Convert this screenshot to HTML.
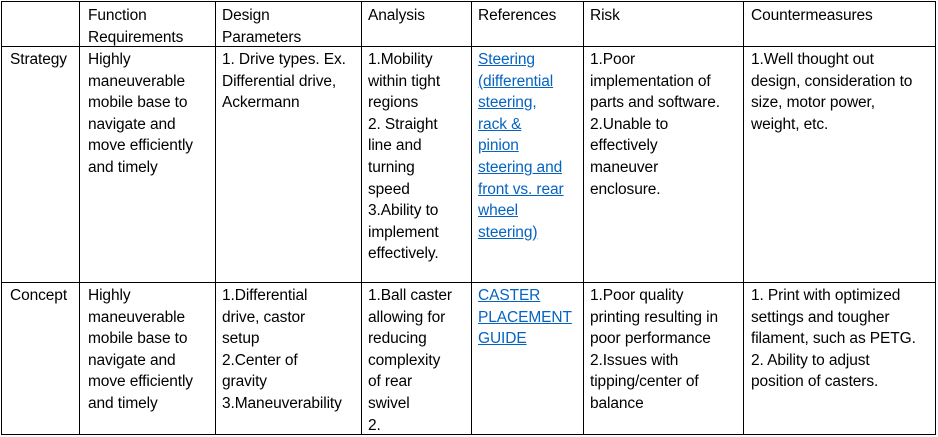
<!DOCTYPE html>
<html><head><meta charset="utf-8"><style>
body{margin:0;width:938px;height:437px;background:#fff;overflow:hidden;position:relative;font-family:"Liberation Sans",sans-serif;font-size:15.5px;color:#000}
.l{position:absolute;background:#000}
.c{position:absolute;line-height:21.6px;white-space:nowrap;letter-spacing:-0.1px}
a{color:#0563c1;text-decoration:underline}
</style></head><body>
<div class="l" style="left:1px;top:1px;width:935px;height:1px"></div>
<div class="l" style="left:1px;top:46px;width:935px;height:1px"></div>
<div class="l" style="left:1px;top:282px;width:935px;height:1px"></div>
<div class="l" style="left:1px;top:434px;width:935px;height:1px"></div>
<div class="l" style="left:1px;top:1px;width:1px;height:434px"></div>
<div class="l" style="left:79px;top:1px;width:1px;height:434px"></div>
<div class="l" style="left:215px;top:1px;width:1px;height:434px"></div>
<div class="l" style="left:361px;top:1px;width:1px;height:434px"></div>
<div class="l" style="left:471px;top:1px;width:1px;height:434px"></div>
<div class="l" style="left:583px;top:1px;width:1px;height:434px"></div>
<div class="l" style="left:743px;top:1px;width:1px;height:434px"></div>
<div class="l" style="left:935px;top:1px;width:1px;height:434px"></div>

<div class="c" style="left:88px;top:5px">Function<br>Requirements</div>
<div class="c" style="left:222px;top:5px">Design<br>Parameters</div>
<div class="c" style="left:368px;top:5px">Analysis</div>
<div class="c" style="left:478px;top:5px">References</div>
<div class="c" style="left:590px;top:5px">Risk</div>
<div class="c" style="left:751px;top:5px">Countermeasures</div>

<div class="c" style="left:10px;top:49px">Strategy</div>
<div class="c" style="left:88px;top:49px">Highly<br>maneuverable<br>mobile base to<br>navigate and<br>move efficiently<br>and timely</div>
<div class="c" style="left:222px;top:49px">1. Drive types. Ex.<br>Differential drive,<br>Ackermann</div>
<div class="c" style="left:368px;top:49px">1.Mobility<br>within tight<br>regions<br>2. Straight<br>line and<br>turning<br>speed<br>3.Ability to<br>implement<br>effectively.</div>
<div class="c" style="left:478px;top:49px"><a>Steering<br>(differential<br>steering,<br>rack &amp;<br>pinion<br>steering and<br>front vs. rear<br>wheel<br>steering)</a></div>
<div class="c" style="left:590px;top:49px">1.Poor<br>implementation of<br>parts and software.<br>2.Unable to<br>effectively<br>maneuver<br>enclosure.</div>
<div class="c" style="left:751px;top:49px">1.Well thought out<br>design, consideration to<br>size, motor power,<br>weight, etc.</div>

<div class="c" style="left:10px;top:285px">Concept</div>
<div class="c" style="left:88px;top:285px">Highly<br>maneuverable<br>mobile base to<br>navigate and<br>move efficiently<br>and timely</div>
<div class="c" style="left:222px;top:285px">1.Differential<br>drive, castor<br>setup<br>2.Center of<br>gravity<br>3.Maneuverability</div>
<div class="c" style="left:368px;top:285px">1.Ball caster<br>allowing for<br>reducing<br>complexity<br>of rear<br>swivel<br>2.</div>
<div class="c" style="left:478px;top:285px"><a>CASTER<br>PLACEMENT<br>GUIDE</a></div>
<div class="c" style="left:590px;top:285px">1.Poor quality<br>printing resulting in<br>poor performance<br>2.Issues with<br>tipping/center of<br>balance</div>
<div class="c" style="left:751px;top:285px">1. Print with optimized<br>settings and tougher<br>filament, such as PETG.<br>2. Ability to adjust<br>position of casters.</div>
</body></html>
